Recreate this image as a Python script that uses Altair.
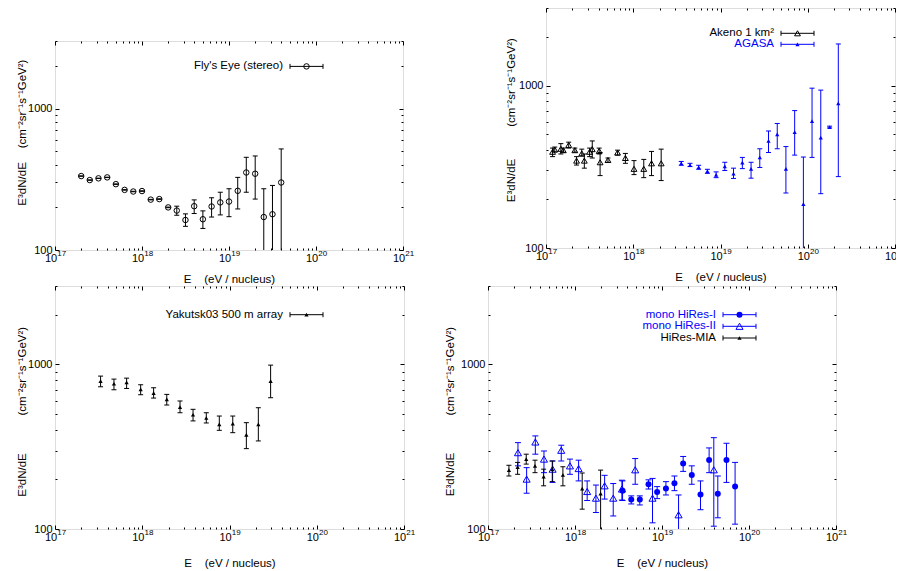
import altair as alt
import pandas as pd

FONT = "Liberation Sans"
BLUE = "#0000ff"
BLACK = "#000000"

# ---------------- axes / ticks ----------------
X_DOMAIN = [1e17, 1e21]
Y_DOMAIN = [100, 3000]
X_MAJOR = [1e17, 1e18, 1e19, 1e20, 1e21]
X_LABEL_BASE = "10"
X_LABEL_EXP = ["17", "18", "19", "20", "21"]
X_MINOR = [m * 10.0 ** e for e in range(17, 21) for m in range(2, 10)]
Y_MAJOR = [100, 1000]
Y_MINOR = [200, 300, 400, 500, 600, 700, 800, 900, 2000, 3000]
X_TITLE = "E\u00a0\u00a0\u00a0\u00a0(eV / nucleus)"
Y_TITLE_A = "E³dN/dE"
Y_TITLE_B = "(cm⁻²sr⁻¹s⁻¹GeV²)"

# ---------------- data ----------------
# Fly's Eye (stereo)
fly_E = [2.0e17, 2.51e17, 3.16e17, 3.98e17, 5.01e17, 6.31e17, 7.94e17, 1.0e18,
         1.26e18, 1.58e18, 2.0e18, 2.51e18, 3.16e18, 3.98e18, 5.01e18, 6.31e18,
         7.94e18, 1.0e19, 1.26e19, 1.58e19, 2.0e19, 2.51e19, 3.16e19, 3.98e19]
fly_J = [333, 312, 321, 326, 292, 266, 259, 261, 227, 229, 200, 190, 163, 204,
         165, 203, 217, 220, 262, 353, 346, 171, 179, 300]
fly_hi = [334, 313, 322, 327, 293, 267, 260, 262, 228, 230, 201, 204, 180, 226,
          189, 234, 256, 271, 326, 452, 462, 271, 286, 518]
fly_lo = [332, 311, 320, 325, 291, 265, 258, 260, 226, 228, 199, 176, 147, 181,
          142, 171, 177, 172, 195, 256, 229, 60, 60, 60]

# Akeno 1 km2
ake_E = [1.19e17, 1.26e17, 1.48e17, 1.58e17, 1.82e17, 2.14e17, 2.24e17, 2.57e17,
         2.75e17, 3.16e17, 3.39e17, 4.07e17, 4.17e17, 5.13e17, 6.61e17, 8.13e17,
         1.02e18, 1.32e18, 1.62e18, 2.09e18]
ake_J = [391, 404, 408, 400, 431, 400, 345, 382, 345, 391, 406, 396, 337, 348,
         387, 358, 307, 307, 332, 332]
ake_hi = [412, 418, 439, 412, 448, 412, 365, 406, 379, 412, 456, 412, 387, 358,
          400, 382, 345, 351, 393, 406]
ake_lo = [365, 390, 379, 388, 412, 389, 324, 368, 310, 365, 358, 379, 279, 337,
          373, 332, 283, 271, 279, 260]

# AGASA
aga_E = [3.55e18, 4.47e18, 5.62e18, 7.08e18, 8.91e18, 1.12e19, 1.41e19, 1.78e19,
         2.24e19, 2.82e19, 3.55e19, 4.47e19, 5.62e19, 7.08e19, 8.91e19, 1.12e20,
         1.41e20, 1.78e20, 2.24e20]
aga_J = [332, 324, 314, 297, 282, 318, 287, 335, 307, 361, 456, 501, 307, 517,
         186, 604, 478, 555, 777]
aga_hi = [341, 332, 323, 305, 294, 337, 310, 361, 337, 408, 525, 584, 421, 701,
          363, 963, 937, 562, 1802]
aga_lo = [323, 317, 305, 288, 271, 300, 268, 308, 269, 313, 387, 408, 218, 373,
          60, 361, 216, 548, 275]

# Yakutsk03 500 m array
yak_E = [3.33e17, 4.74e17, 6.62e17, 9.59e17, 1.35e18, 1.91e18, 2.71e18, 3.82e18,
         5.42e18, 7.64e18, 1.09e19, 1.56e19, 2.14e19, 2.96e19]
yak_J = [793, 764, 778, 706, 670, 614, 551, 495, 473, 433, 437, 373, 433, 793]
yak_hi = [850, 815, 826, 753, 722, 658, 600, 534, 509, 486, 486, 443, 546, 991]
yak_lo = [732, 702, 715, 655, 625, 567, 509, 454, 441, 398, 385, 308, 343, 628]

# mono HiRes-I
hr1_E = [3.52e18, 4.43e18, 5.56e18, 7.00e18, 8.79e18, 1.11e19, 1.39e19, 1.75e19,
         2.20e19, 2.77e19, 3.48e19, 4.38e19, 5.51e19, 6.92e19]
hr1_J = [171, 151, 151, 187, 168, 176, 190, 250, 213, 162, 263, 164, 263, 181]
hr1_hi = [196, 159, 159, 199, 181, 194, 210, 276, 242, 196, 311, 210, 332, 254]
hr1_lo = [149, 142, 140, 175, 153, 161, 171, 224, 187, 131, 220, 117, 192, 107]

# mono HiRes-II
hr2_E = [2.21e17, 2.78e17, 3.50e17, 4.40e17, 5.53e17, 6.95e17, 8.75e17, 1.10e18,
         1.38e18, 1.74e18, 2.19e18, 2.75e18, 3.46e18, 4.92e18, 7.78e18, 1.55e19,
         3.94e19]
hr2_J = [291, 201, 338, 266, 231, 301, 242, 233, 169, 154, 183, 154, 175, 229,
         154, 122, 229]
hr2_hi = [335, 236, 368, 298, 259, 323, 266, 262, 196, 185, 212, 189, 198, 268,
          203, 161, 359]
hr2_lo = [242, 165, 285, 220, 192, 259, 215, 196, 149, 126, 152, 120, 150, 187,
          109, 60, 104]

# HiRes-MIA
mia_E = [1.74e17, 2.19e17, 2.75e17, 3.47e17, 4.36e17, 5.48e17, 7.26e17, 1.21e18,
         1.97e18]
mia_J = [228, 238, 266, 242, 208, 231, 213, 176, 164]
mia_hi = [244, 254, 285, 262, 231, 259, 239, 219, 228]
mia_lo = [210, 215, 248, 220, 183, 194, 183, 132, 60]

# ---------------- helpers ----------------
AX = dict(labelFont=FONT, titleFont=FONT, labelFontSize=11, titleFontSize=11.5,
          labelColor=BLACK, titleColor=BLACK, titleFontWeight="normal", grid=False,
          minExtent=0)

# anchor of the in-plot key: the top-left corner of the plotting domain
CORNER = pd.DataFrame({"E": [X_DOMAIN[0]], "J": [Y_DOMAIN[1]]})


def xs():
    return alt.Scale(type="log", domain=X_DOMAIN, nice=False)


def ys():
    return alt.Scale(type="log", domain=Y_DOMAIN, nice=False)


def XE(axis=None):
    return alt.X("E:Q", scale=xs(), axis=axis)


def YJ(field="J", axis=None):
    return alt.Y(f"{field}:Q", scale=ys(), axis=axis)


def series_layers(E, J, lo, hi, color, shape, filled, size, cap=2.5):
    df = pd.DataFrame({"E": E, "J": J, "lo": lo, "hi": hi})
    base = alt.Chart(df)
    bar = base.mark_rule(color=color, strokeWidth=1, clip=True).encode(
        x=XE(), y=YJ("lo"), y2="hi:Q")
    caps = [base.mark_rule(color=color, strokeWidth=1, clip=True,
                           xOffset=-cap, x2Offset=cap).encode(
        x=XE(), x2="E:Q", y=YJ(c)) for c in ("lo", "hi")]
    pt = base.mark_point(shape=shape, filled=filled, size=size, color=color,
                         strokeWidth=1, opacity=1, clip=True).encode(x=XE(), y=YJ())
    return [bar, *caps, pt]


def axis_layer_x(axis):
    return alt.Chart(CORNER).mark_point(opacity=0, size=0).encode(x=XE(axis), y=YJ())


def axis_layer_y(axis):
    return alt.Chart(CORNER).mark_point(opacity=0, size=0).encode(x=XE(), y=YJ(axis=axis))


def tick_axis(orient, values, size):
    return alt.Axis(orient=orient, values=values, tickSize=size, offset=-size,
                    labels=False, domain=False, grid=False, title=None, ticks=True,
                    tickColor=BLACK, tickWidth=1, minExtent=0, maxExtent=0)


EXP_EXPR = "[" + ",".join(f"'{s}'" for s in X_LABEL_EXP) + "][round(log(datum.value)/LN10) - 17]"


def frame_layers(tx, tya, tyb, xtp):
    layers = []
    for orient, vals, size in [("bottom", X_MAJOR, 4), ("bottom", X_MINOR, 2),
                               ("top", X_MAJOR, 4), ("top", X_MINOR, 2)]:
        layers.append(axis_layer_x(tick_axis(orient, vals, size)))
    for orient, vals, size in [("left", Y_MAJOR, 4), ("left", Y_MINOR, 2),
                               ("right", Y_MAJOR, 4), ("right", Y_MINOR, 2)]:
        layers.append(axis_layer_y(tick_axis(orient, vals, size)))
    # "10" part of the x labels, with the axis title
    layers.append(axis_layer_x(alt.Axis(
        orient="bottom", values=X_MAJOR, labelExpr=f"'{X_LABEL_BASE}'", ticks=False,
        tickSize=0, domain=False, labelPadding=2, labelOffset=-4.4, labelFlush=False,
        labelOverlap=False, title=X_TITLE, titlePadding=xtp, **AX)))
    # exponent part of the x labels
    layers.append(axis_layer_x(alt.Axis(
        orient="bottom", values=X_MAJOR, labelExpr=EXP_EXPR, ticks=False,
        tickSize=0, domain=False, labelPadding=-1, labelOffset=6.3, labelFlush=False,
        labelOverlap=False, title=None, labelFont=FONT, labelFontSize=8,
        labelColor=BLACK, grid=False, minExtent=0)))
    layers.append(axis_layer_y(alt.Axis(
        orient="left", values=Y_MAJOR, format="d", ticks=False, tickSize=0,
        domain=False, labelPadding=3, labelOverlap=False, title=Y_TITLE_A,
        titleX=tx, titleY=tya, titleAlign="center", titleBaseline="bottom",
        titleAngle=270, **AX)))
    layers.append(axis_layer_y(alt.Axis(
        orient="left", labels=False, ticks=False, tickSize=0, domain=False,
        title=Y_TITLE_B, titleX=tx, titleY=tyb, titleAlign="center",
        titleBaseline="bottom", titleAngle=270, **AX)))
    return layers


LEG_TEXT_X, LEG_X1, LEG_X2, LEG_XM = 228, 235, 268, 251.5


def legend_layers(rows):
    out = []
    base = alt.Chart(CORNER)
    for label, color, y, shape, filled, size in rows:
        out.append(base.mark_text(
            align="right", baseline="middle", font=FONT, fontSize=11.5, color=color,
            xOffset=LEG_TEXT_X, yOffset=y, text=label).encode(x=XE(), y=YJ()))
        out.append(base.mark_rule(color=color, strokeWidth=1, xOffset=LEG_X1,
                                  x2Offset=LEG_X2, yOffset=y).encode(
            x=XE(), x2="E:Q", y=YJ()))
        for xx in (LEG_X1, LEG_X2):
            out.append(base.mark_rule(color=color, strokeWidth=1, xOffset=xx,
                                      yOffset=y - 2.5, y2Offset=y + 2.5).encode(
                x=XE(), y=YJ(), y2="J:Q"))
        out.append(base.mark_point(
            shape=shape, filled=filled, size=size, color=color, opacity=1, strokeWidth=1,
            xOffset=LEG_XM, yOffset=y).encode(x=XE(), y=YJ()))
    return out


def panel(series, legend_rows, tx, tya, tyb, xtp, w, h):
    layers = frame_layers(tx, tya, tyb, xtp)
    for s in series:
        layers += series_layers(*s)
    layers += legend_layers(legend_rows)
    return alt.layer(*layers).resolve_axis(x="independent", y="independent").properties(
        width=w, height=h)


p1 = panel(
    [(fly_E, fly_J, fly_lo, fly_hi, BLACK, "circle", False, 30, 2.5)],
    [("Fly's Eye (stereo)", BLACK, 25.4, "circle", False, 30)],
    -28, 142.4, 62.4, 10, 348, 209,
)

# empty band that lowers the first panel below the top of the second one
spacer = alt.Chart(CORNER).mark_point(opacity=0, size=0).encode(
    x=XE(), y=YJ()).properties(width=348, height=31.3,
                               view=alt.ViewBackground(strokeOpacity=0))

p2 = panel(
    [(ake_E, ake_J, ake_lo, ake_hi, BLACK, "triangle-up", False, 34, 2.5),
     (aga_E, aga_J, aga_lo, aga_hi, BLUE, "triangle-up", True, 18, 2.5)],
    [("Akeno 1 km²", BLACK, 25.3, "triangle-up", False, 34),
     ("AGASA", BLUE, 36.3, "triangle-up", True, 18)],
    -29.3, 172, 74, 10, 349, 240,
)

p3 = panel(
    [(yak_E, yak_J, yak_lo, yak_hi, BLACK, "triangle-up", True, 18, 2.5)],
    [("Yakutsk03 500 m array", BLACK, 28.7, "triangle-up", True, 18)],
    -27.6, 188.5, 84.7, 15, 349, 243,
)

p4 = panel(
    [(hr1_E, hr1_J, hr1_lo, hr1_hi, BLUE, "circle", True, 36, 3),
     (hr2_E, hr2_J, hr2_lo, hr2_hi, BLUE, "triangle-up", False, 50, 3),
     (mia_E, mia_J, mia_lo, mia_hi, BLACK, "triangle-up", True, 18, 2.5)],
    [("mono HiRes-I", BLUE, 28.7, "circle", True, 36),
     ("mono HiRes-II", BLUE, 40.3, "triangle-up", False, 50),
     ("HiRes-MIA", BLACK, 52, "triangle-up", True, 18)],
    -32.4, 188, 84.7, 15, 348, 243,
)

left1 = alt.vconcat(spacer, p1, spacing=0)
row1 = alt.hconcat(left1, p2, spacing=90)
row2 = alt.hconcat(p3, p4, spacing=28)
chart = alt.vconcat(row1, row2, spacing=0).properties(
    padding={"left": 7, "top": -1, "right": -11, "bottom": 0}
).configure_view(stroke=BLACK, strokeWidth=1).configure(font=FONT)

chart.save("out.html", embed_options={"renderer": "svg", "actions": False})
